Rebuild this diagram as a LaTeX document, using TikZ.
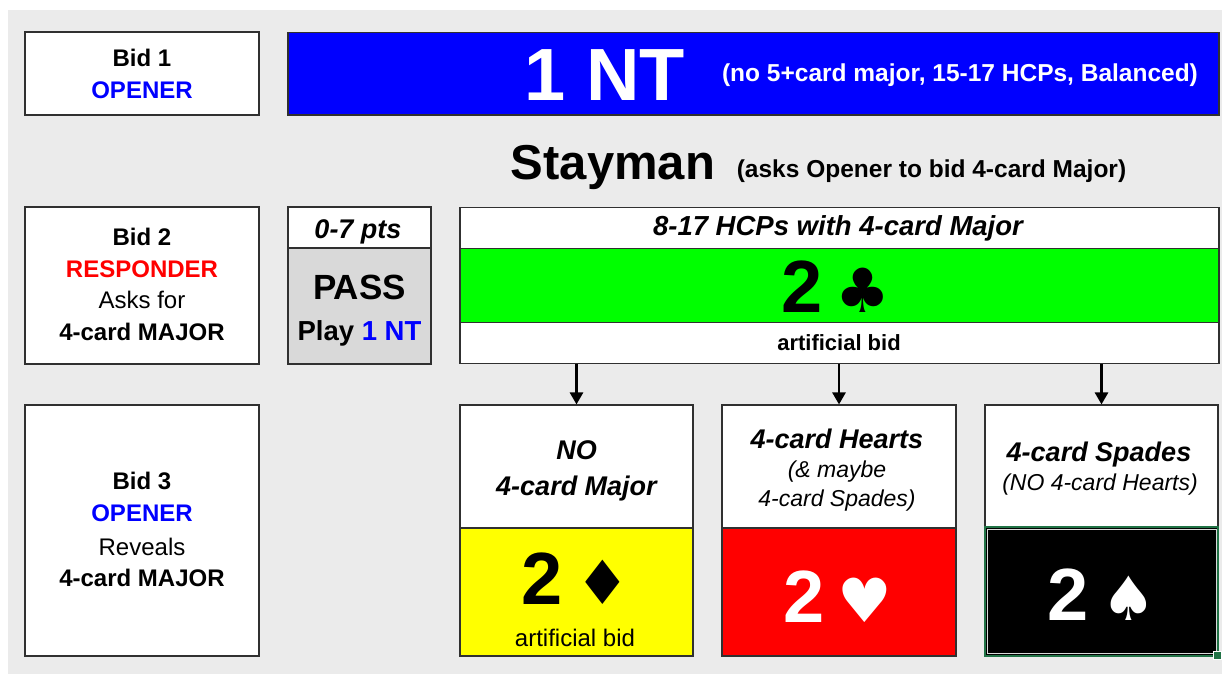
\documentclass[tikz,border=0pt]{standalone}
\usepackage{fontspec}
\setmainfont{Liberation Sans}
\newfontfamily\dejavu{DejaVu Sans}
\usetikzlibrary{arrows.meta}
\definecolor{bggray}{HTML}{EBEBEB}
\definecolor{passgray}{HTML}{D9D9D9}
\definecolor{xlgreen}{HTML}{217346}
\definecolor{brtgreen}{HTML}{00FF00}
\definecolor{brtblue}{HTML}{0000FF}
\definecolor{brtred}{HTML}{FF0000}
\definecolor{brtyellow}{HTML}{FFFF00}
\definecolor{edge}{HTML}{303030}
\newcommand\fsz[1]{\fontsize{#1}{#1}\selectfont}
\newcommand\suit[1]{\hspace{13pt}{\dejavu\fsz{61}#1}}
\begin{document}
\begin{tikzpicture}[x=1pt,y=-1pt,
  box/.style={draw=edge, line width=1.1pt, fill=white, inner sep=0pt, rectangle},
  txt/.style={inner sep=0pt, anchor=base},
  lab/.style={txt, font=\fsz{24}\bfseries},
  labr/.style={txt, font=\fsz{24}},
  head/.style={txt, font=\fsz{27}\bfseries\itshape},
  sub/.style={txt, font=\fsz{23}\itshape},
  big/.style={txt, font=\fsz{74}\bfseries},
  arr/.style={line width=2.6pt, -{Triangle[width=13pt,length=12pt]}}
]
\useasboundingbox (0,0) rectangle (1222,674);
\fill[white] (0,0) rectangle (1222,674);
\fill[bggray] (8,10) rectangle (1222,674);

% ---- row 1
\node[box, minimum width=234, minimum height=83] (bid1) at (142,73.5) {};
\node[lab] (bid1a) at (142,66.7) {Bid 1};
\node[lab, text=brtblue] (bid1b) at (142,98.7) {OPENER};

\node[box, fill=brtblue, minimum width=931, minimum height=82.5] (nt) at (753.5,73.75) {};
\node[big, text=white] (ntbig) at (605,101) {1 NT};
\node[txt, text=white, font=\fsz{24.5}\bfseries] (ntsub) at (960,82) {(no 5+card major, 15-17 HCPs, Balanced)};

\node[txt, font=\fsz{49}\bfseries] (stay) at (613,179) {Stayman};
\node[txt, font=\fsz{24.5}\bfseries] (staysub) at (931.5,177) {(asks Opener to bid 4-card Major)};

% ---- row 2
\node[box, minimum width=234, minimum height=157] (bid2) at (142,285.5) {};
\node[lab] (bid2a) at (142,245) {Bid 2};
\node[lab, text=brtred] (bid2b) at (142,277) {RESPONDER};
\node[labr] (bid2c) at (142,308) {Asks for};
\node[lab] (bid2d) at (142,340) {4-card MAJOR};

\node[box, minimum width=143, minimum height=41] (passtop) at (359.5,227.5) {};
\node[box, fill=passgray, minimum width=143, minimum height=116] (pass) at (359.5,306) {};
\node[head] (passa) at (358,238) {0-7 pts};
\node[txt, font=\fsz{35}\bfseries] (passb) at (359.5,299) {PASS};
\node[txt, font=\fsz{27.5}\bfseries] (passc) at (359.5,340) {Play \textcolor{brtblue}{1 NT}};

\node[box, minimum width=759, minimum height=41] (hcptop) at (839.5,228) {};
\node[box, fill=brtgreen, minimum width=759, minimum height=74] (hcp) at (839.5,285.5) {};
\node[box, minimum width=759, minimum height=41] (hcpbot) at (839.5,343) {};
\node[head, font=\fsz{27.5}\bfseries\itshape] (hcpa) at (838,235) {8-17 HCPs with 4-card Major};
\node[big] (club) at (836,312.7) {2\suit{♣}};
\node[txt, font=\fsz{22}\bfseries] (hcpc) at (839,350) {artificial bid};

% ---- row 3
\node[box, minimum width=234, minimum height=251] (bid3) at (142,530.5) {};
\node[lab] (bid3a) at (142,489.3) {Bid 3};
\node[lab, text=brtblue] (bid3b) at (142,521.7) {OPENER};
\node[labr] (bid3c) at (142,555) {Reveals};
\node[lab] (bid3d) at (142,586.7) {4-card MAJOR};

% left answer
\node[box, minimum width=233, minimum height=123] (nomaj) at (576.5,466.5) {};
\node[box, fill=brtyellow, minimum width=233, minimum height=128] (diam) at (576.5,592) {};
\node[head] (nomaja) at (576.5,459.3) {NO};
\node[head] (nomajb) at (576.5,495) {4-card Major};
\node[big] (diamt) at (576,604) {2\suit{♦}};
\node[labr] (diamc) at (575,646) {artificial bid};

% middle answer
\node[box, minimum width=234, minimum height=123] (hrt) at (839,466.5) {};
\node[box, fill=brtred, minimum width=234, minimum height=128] (heart) at (839,592) {};
\node[head] (hrta) at (837,448.3) {4-card Hearts};
\node[sub] (hrtb) at (837,477) {(\& maybe};
\node[sub] (hrtc) at (837,506) {4-card Spades)};
\node[big, text=white] (heartt) at (838,622) {2\suit{♥}};

% right answer
\node[box, minimum width=233, minimum height=122] (spd) at (1101.5,466) {};
\node[draw=xlgreen, line width=2pt, fill=black, inner sep=0pt, minimum width=233, minimum height=129] (spade) at (1101.5,591.5) {};
\draw[passgray, line width=0.8pt] (987,529.5) rectangle (1216,653.5);
\node[fill=xlgreen, draw=white, line width=0.6pt, minimum size=8pt, inner sep=0pt] (handle) at (1217.5,655.5) {};
\node[head] (spda) at (1099,461.7) {4-card Spades};
\node[sub] (spdb) at (1100,490) {(NO 4-card Hearts)};
\node[big, text=white] (spadet) at (1102,620) {2\suit{♠}};

% ---- arrows
\draw[arr] (nomaj.north |- hcpbot.south) -- (nomaj.north);
\draw[arr] (hrt.north |- hcpbot.south) -- (hrt.north);
\draw[arr] (spd.north |- hcpbot.south) -- (spd.north);
\end{tikzpicture}
\end{document}
